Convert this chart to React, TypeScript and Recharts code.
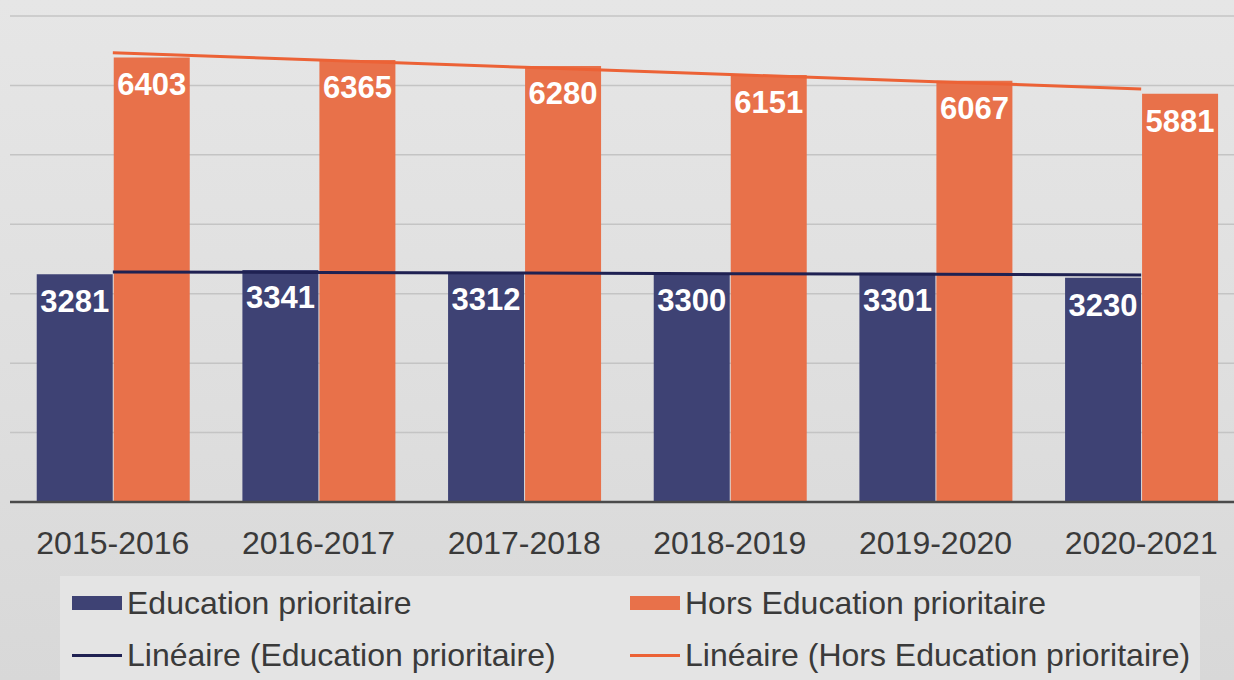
import { Bar, CartesianGrid, ComposedChart, LabelList, Line, XAxis, YAxis } from 'recharts';

const years = ['2015-2016', '2016-2017', '2017-2018', '2018-2019', '2019-2020', '2020-2021'];
const prioritaire = [3281, 3341, 3312, 3300, 3301, 3230];
const horsPrioritaire = [6403, 6365, 6280, 6151, 6067, 5881];
// trend lines
const trendPrioritaire = [3314, 3305, 3297, 3288, 3280, 3271];
const trendHors = [6470, 6366, 6262, 6158, 6054, 5950];
const yTicks = [0, 1000, 2000, 3000, 4000, 5000, 6000, 7000];

const BLUE = '#3e4274';
const ORANGE = '#e8714a';
const BLUE_LINE = '#1f2152';
const ORANGE_LINE = '#ec6236';
const FONT = '"Liberation Sans", Arial, sans-serif';

const data = years.map((year, i) => ({
  year,
  prio: prioritaire[i],
  hors: horsPrioritaire[i],
  trendPrio: trendPrioritaire[i],
  trendHors: trendHors[i],
}));

const legendItems = [
  { label: 'Education prioritaire', color: BLUE, kind: 'rect', x: 72, y: 603 },
  { label: 'Hors Education prioritaire', color: ORANGE, kind: 'rect', x: 630, y: 603 },
  { label: 'Linéaire (Education prioritaire)', color: BLUE_LINE, kind: 'line', x: 72, y: 655 },
  { label: 'Linéaire (Hors Education prioritaire)', color: ORANGE_LINE, kind: 'line', x: 630, y: 655 },
];

export default function App() {
  return (
    <div
      style={{
        position: 'fixed',
        left: 0,
        top: 0,
        width: 1234,
        height: 680,
        overflow: 'hidden',
        background: 'linear-gradient(180deg, #e6e6e6 0%, #dedede 60%, #d8d8d8 100%)',
        fontFamily: FONT,
      }}
    >
      <ComposedChart
        width={1260}
        height={680}
        data={data}
        margin={{ top: 16, right: 16, left: 10, bottom: 98 }}
        barCategoryGap="13%"
        barGap={1}
      >
        <CartesianGrid vertical={false} stroke="#c4c4c4" strokeWidth={1.5} />
        <XAxis
          dataKey="year"
          height={80}
          tickLine={false}
          axisLine={{ stroke: '#4a4a4a', strokeWidth: 2.5 }}
          tickMargin={23}
          tick={{ fill: '#3a3a3a', fontSize: 32, fontFamily: FONT }}
          interval={0}
        />
        <YAxis hide domain={[0, 7000]} ticks={yTicks} />
        <Bar dataKey="prio" fill={BLUE} isAnimationActive={false}>
          <LabelList
            dataKey="prio"
            position="insideTop"
            offset={16}
            fill="#ffffff"
            fontSize={31}
            fontWeight="bold"
            fontFamily={FONT}
          />
        </Bar>
        <Bar dataKey="hors" fill={ORANGE} isAnimationActive={false}>
          <LabelList
            dataKey="hors"
            position="insideTop"
            offset={16}
            fill="#ffffff"
            fontSize={31}
            fontWeight="bold"
            fontFamily={FONT}
          />
        </Bar>
        <Line
          type="linear"
          dataKey="trendPrio"
          stroke={BLUE_LINE}
          strokeWidth={3}
          dot={false}
          activeDot={false}
          isAnimationActive={false}
        />
        <Line
          type="linear"
          dataKey="trendHors"
          stroke={ORANGE_LINE}
          strokeWidth={3}
          dot={false}
          activeDot={false}
          isAnimationActive={false}
        />
      </ComposedChart>

      <div
        style={{
          position: 'absolute',
          left: 60,
          top: 576,
          width: 1140,
          height: 104,
          background: '#e4e4e4',
        }}
      />
      {legendItems.map((item) => (
        <div
          key={item.label}
          style={{
            position: 'absolute',
            left: item.x,
            top: item.y - 20,
            height: 40,
            display: 'flex',
            alignItems: 'center',
            fontSize: 32,
            color: '#3a3a3a',
            whiteSpace: 'nowrap',
          }}
        >
          <span
            style={{
              display: 'inline-block',
              width: 50,
              height: item.kind === 'rect' ? 14 : 3,
              background: item.color,
              marginRight: 5,
            }}
          />
          {item.label}
        </div>
      ))}
    </div>
  );
}
